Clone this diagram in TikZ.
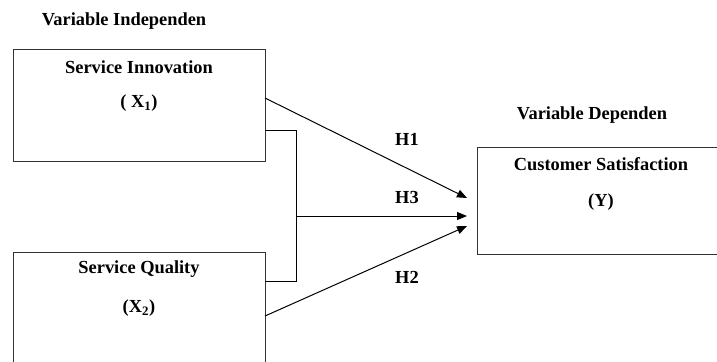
\documentclass[tikz,border=0pt]{standalone}
\usepackage{fontspec}
\setmainfont{Liberation Serif}
\usetikzlibrary{arrows.meta}

\begin{document}
\begin{tikzpicture}[x=0.75pt, y=-0.75pt, line width=0.75pt,
        font=\fontsize{13.8}{16}\selectfont\bfseries,
        box/.style = {draw=black!80, inner sep=0pt},
        arr/.style = {-{Triangle[length=7.5pt, width=6pt]}}]
    \clip (0,0) rectangle (717,361);

    \node[box, minimum width=189pt, minimum height=84pt] (X1box) at (139,105) {};
    \node[box, minimum width=189pt, minimum height=96pt] (X2box) at (139,316) {};
    \node[box, minimum width=197pt, minimum height=80.25pt] (Ybox) at (608.5,200.5) {};

    \node (indep) at (124,21) {Variable Independen};
    \node (sinov) at (139,67) {Service Innovation};
    \node (x1) at (139,103) {( X\textsubscript{1})};
    \node (squal) at (139,269) {Service Quality};
    \node (x2) at (139,308) {(X\textsubscript{2})};
    \node (dep) at (592,115) {Variable Dependen};
    \node (csat) at (601,164) {Customer Satisfaction};
    \node (y) at (601,202) {(Y)};

    \coordinate (h1s) at (265,98);
    \coordinate (h1e) at (467,198);
    \coordinate (h2s) at (265,316);
    \coordinate (h2e) at (467,226);
    \coordinate (b1) at (265,130);
    \coordinate (b2) at (265,281);
    \coordinate (jt) at (296,130);
    \coordinate (jb) at (296,281);
    \coordinate (jm) at (296,216);
    \coordinate (h3e) at (467,216);

    \draw[arr] (h1s) -- (h1e);
    \draw (b1) -- (jt) -- (jb) -- (b2);
    \draw[arr] (jm) -- (h3e);
    \draw[arr] (h2s) -- (h2e);

    \node (H1) at (407,139) {H1};
    \node (H3) at (407,197) {H3};
    \node (H2) at (407,277) {H2};
\end{tikzpicture}
\end{document}
